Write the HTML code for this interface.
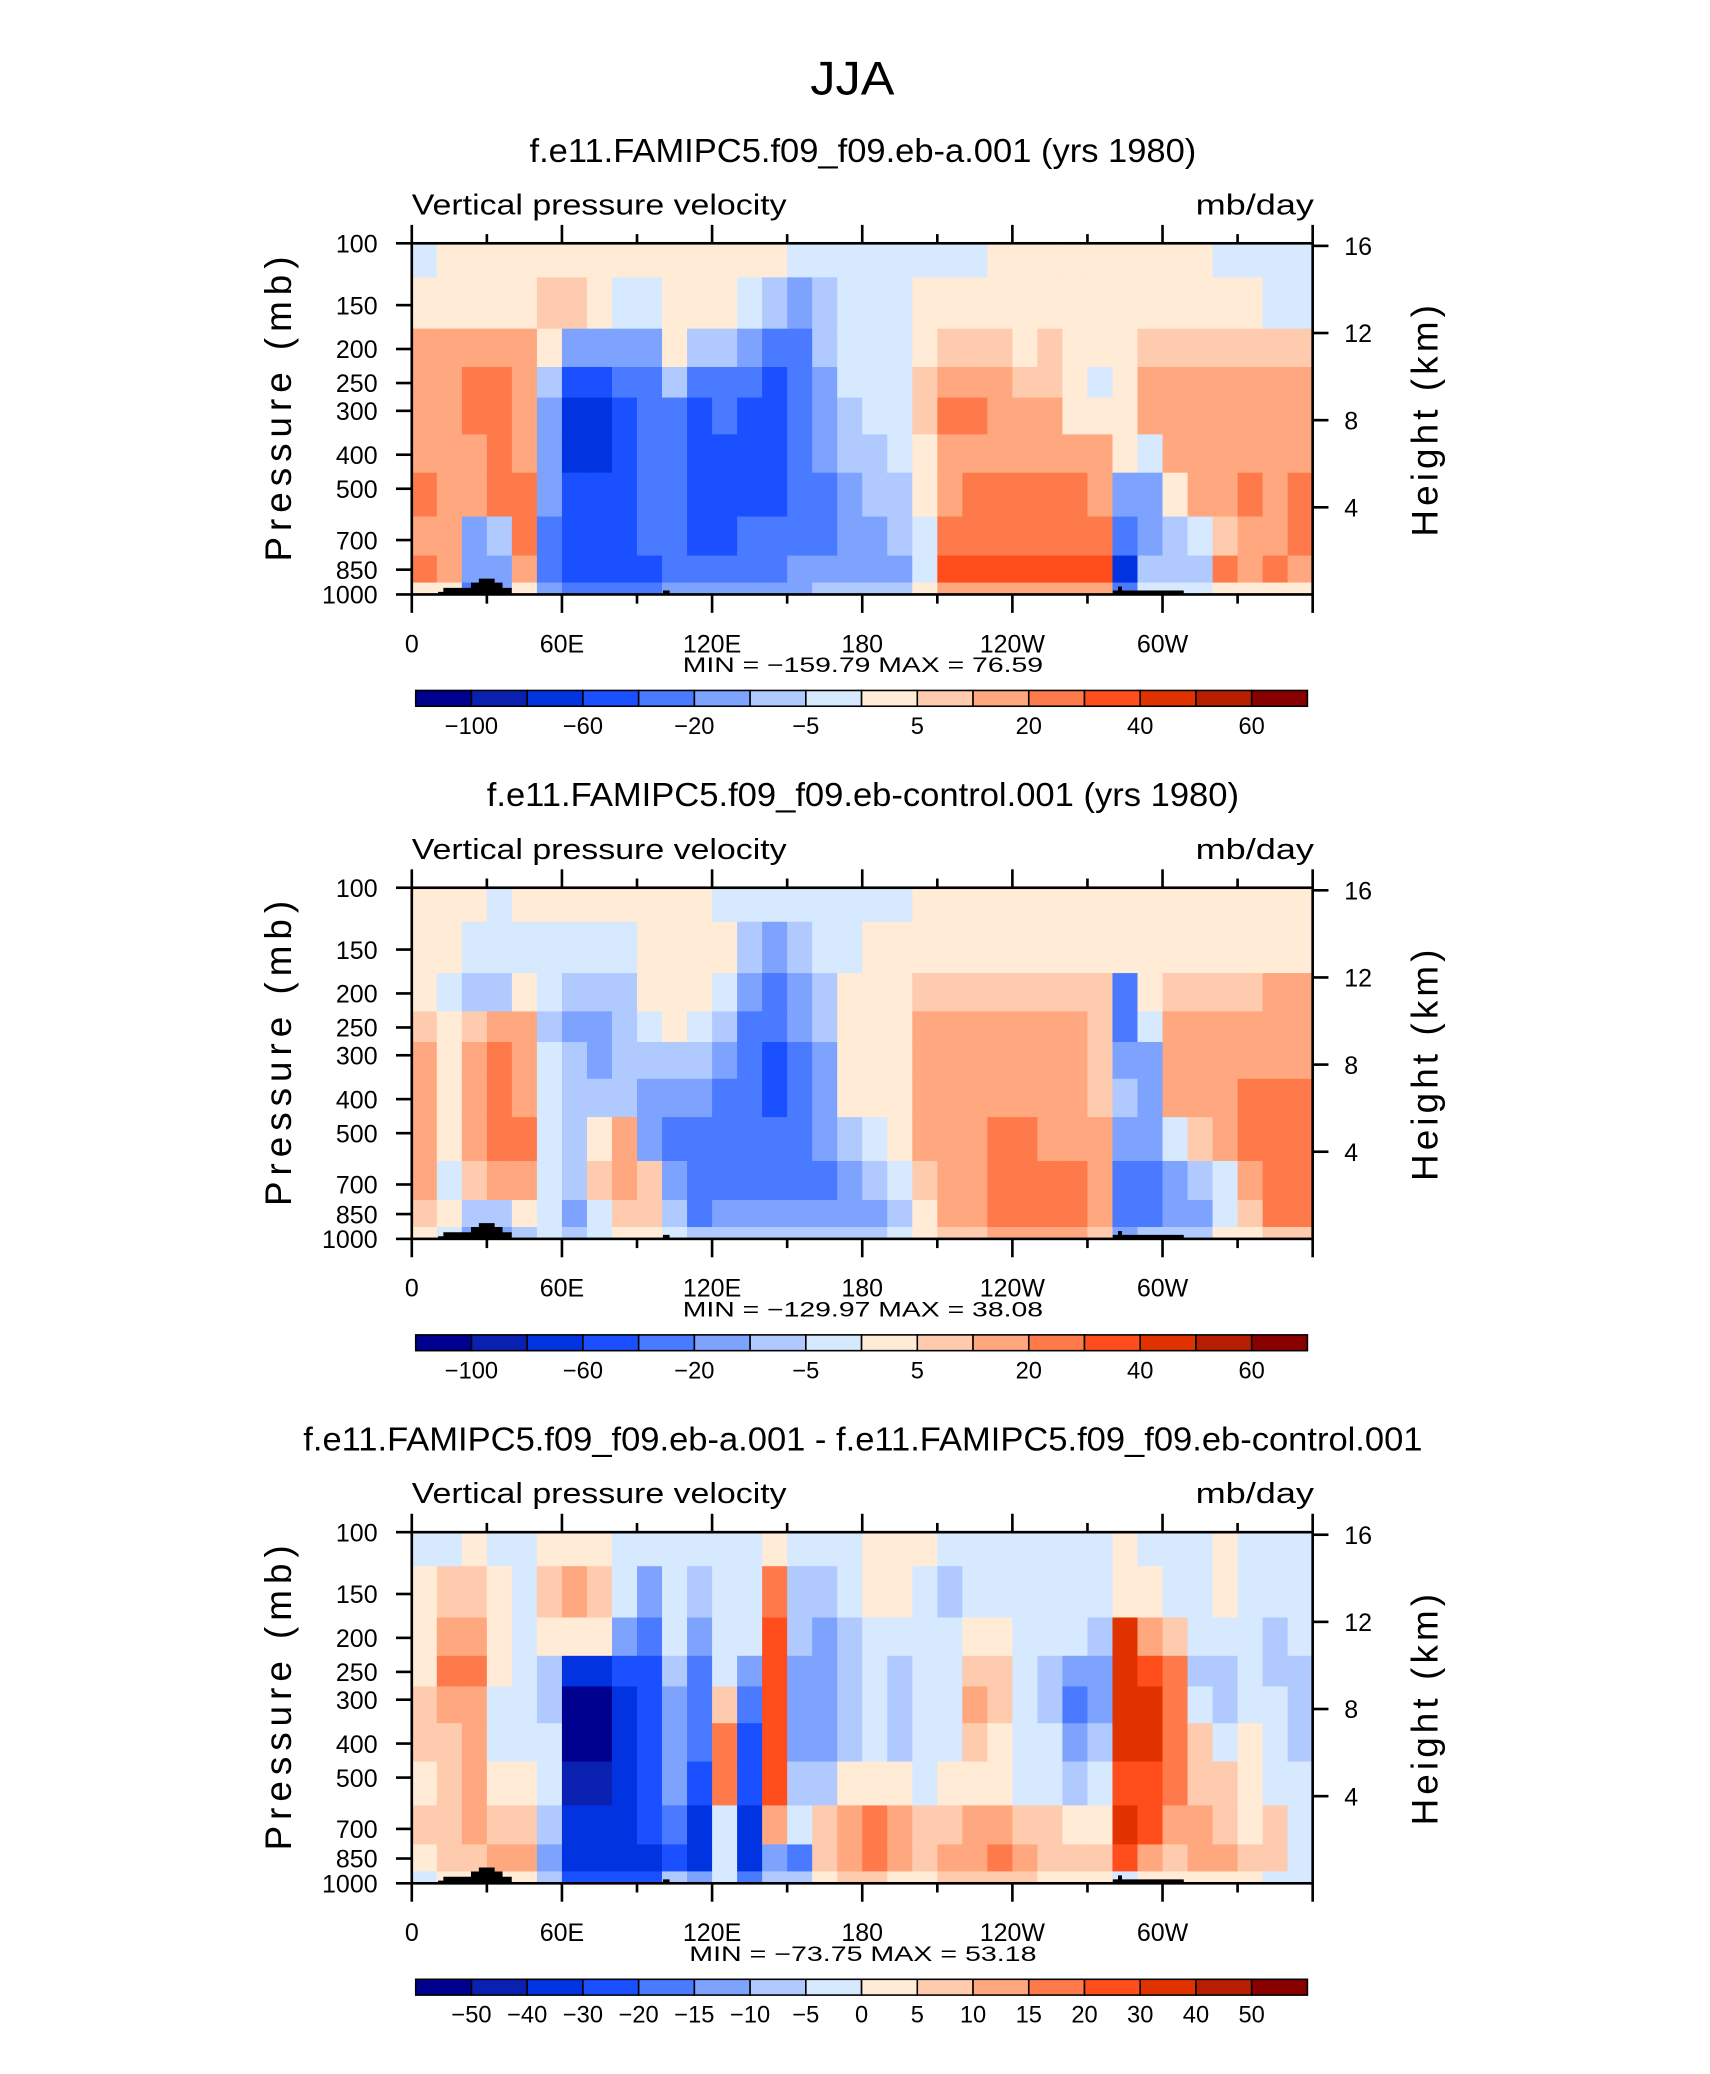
<!DOCTYPE html>
<html><head><meta charset="utf-8"><style>
html,body{margin:0;padding:0;background:#fff;}
svg{display:block;}
text{font-family:"Liberation Sans",sans-serif;fill:#000;}
</style></head><body>
<svg id="fig" width="1710" height="2074" viewBox="0 0 1300 1577" xmlns="http://www.w3.org/2000/svg">
<rect x="0" y="0" width="1300" height="1577" fill="#fff"/>
<text x="648" y="72" font-size="36" text-anchor="middle" textLength="64" lengthAdjust="spacingAndGlyphs">JJA</text>
</svg>
<script>
const lons = [5,15,25,35,45,55,65,75,85,95,105,115,125,135,145,155,165,175,185,195,205,215,225,235,245,255,265,275,285,295,305,315,325,335,345,355];
const pressureBounds = [100,125,175,225,275,350,450,600,775,925,1000];
const pressureTicks = [100,150,200,250,300,400,500,700,850,1000];
const heightTicks = [16,12,8,4];
const lonTicks = [0,60,120,180,240,300];
const lonTickLabels = ["0","60E","120E","180","120W","60W"];
const levelsA = [-100,-80,-60,-40,-20,-10,-5,0,5,10,20,30,40,50,60];
const levelLabelsA = ["-100","","-60","","-20","","-5","","5","","20","","40","","60"];
const levelsD = [-50,-40,-30,-20,-15,-10,-5,0,5,10,15,20,30,40,50];
const levelLabelsD = ["-50","-40","-30","-20","-15","-10","-5","0","5","10","15","20","30","40","50"];
const palette = ["#00008f","#0a20b0","#0233e0","#1a50ff","#4a7aff","#7ea3ff","#b0caff","#d6e9ff","#ffebd6","#ffcbae","#ffa77e","#ff7a4a","#ff4d1c","#e03300","#b81e00","#880000"];
const titles = ["f.e11.FAMIPC5.f09_f09.eb-a.001 (yrs 1980)","f.e11.FAMIPC5.f09_f09.eb-control.001 (yrs 1980)","f.e11.FAMIPC5.f09_f09.eb-a.001 - f.e11.FAMIPC5.f09_f09.eb-control.001"];
const titleWidths = [507, 572, 851];
const minmax = ["MIN = \u2212159.79   MAX =   76.59","MIN = \u2212129.97   MAX =   38.08","MIN = \u221273.75   MAX =   53.18"];
const minmaxWidths = [274, 274, 264];
const dataA = [
[-2,3,15,15,15,15,25,15,25,3],[3,3,15,15,15,15,15,15,15,3],[3,3,15,25,25,15,15,-20,-20,-40],[3,3,15,25,25,25,25,-10,-20,-20],
[3,3,15,15,15,15,25,25,15,3],[3,7,3,-10,-20,-20,-20,-30,-30,-20],[3,7,-20,-50,-70,-70,-50,-50,-50,-30],[3,3,-20,-50,-70,-70,-50,-50,-50,-30],
[3,-3,-20,-30,-50,-50,-50,-50,-50,-30],[3,-3,-15,-30,-30,-30,-30,-30,-50,-30],[3,3,3,-10,-30,-30,-30,-30,-30,-20],[3,3,-10,-30,-50,-50,-50,-50,-30,-20],
[3,3,-10,-30,-30,-50,-50,-50,-30,-20],[3,-3,-20,-30,-50,-50,-50,-30,-30,-20],[3,-7,-30,-50,-50,-50,-50,-30,-30,-20],[-3,-15,-30,-30,-30,-30,-30,-30,-20,-15],
[-3,-7,-7,-15,-15,-15,-30,-30,-20,-10],[-3,-3,-3,-3,-7,-7,-15,-15,-15,-10],[-3,-3,-3,-3,-3,-7,-7,-15,-15,-10],[-3,-3,-3,-3,-3,-3,-7,-10,-15,-7],
[-3,3,3,7,7,3,3,-3,-3,3],[-3,3,7,15,25,15,15,25,30,15],[-3,3,7,15,25,15,25,25,35,15],[3,3,7,15,15,15,25,25,35,15],
[3,3,3,7,15,15,25,25,35,15],[3,3,7,7,15,15,25,25,35,15],[3,3,3,3,3,15,25,25,35,15],[3,3,3,-3,3,15,15,25,35,10],
[3,3,3,3,3,3,-20,-40,-80,-40],[3,3,7,15,15,-3,-20,-20,-10,-3],[3,3,7,15,15,15,3,-10,-10,-3],[3,3,7,15,15,15,15,-3,-10,-3],
[-3,3,7,15,15,15,15,7,20,3],[-3,3,7,15,15,15,25,15,10,3],[-3,-3,7,15,15,15,15,15,25,3],[-3,-3,7,15,15,15,25,25,15,3]];
const dataC = [
[3,3,3,7,15,15,15,15,7,3],[3,3,-3,3,3,3,3,-3,3,-3],[3,-3,-7,7,15,15,15,7,-10,-20],[-3,-3,-7,15,25,25,25,15,-10,-20],
[3,-3,3,15,15,15,25,15,3,-10],[3,-3,-3,-7,-3,-3,-3,-3,-3,-3],[3,-3,-10,-20,-10,-10,-7,-10,-15,-10],[3,-3,-10,-20,-15,-10,3,7,-3,-3],
[3,-3,-7,-10,-7,-7,15,15,7,3],[3,3,3,-3,-7,-15,-15,7,7,3],[3,3,3,3,-7,-20,-30,-15,-7,-3],[3,3,3,-3,-10,-20,-30,-30,-30,-7],
[-3,3,-3,-10,-20,-30,-30,-30,-20,-7],[-3,-10,-20,-30,-30,-40,-40,-30,-20,-7],[-3,-15,-30,-40,-50,-50,-40,-30,-20,-7],[-3,-7,-15,-20,-30,-30,-30,-30,-20,-7],
[-3,-3,-7,-10,-15,-15,-20,-30,-20,-7],[-3,-3,3,3,3,3,-7,-20,-15,-7],[-3,3,3,3,3,3,-3,-7,-15,-7],[-3,3,3,3,3,3,3,-3,-7,-3],
[3,3,7,15,15,15,15,7,3,3],[3,3,7,15,15,15,15,15,15,7],[3,3,7,15,15,15,15,15,15,7],[3,3,7,15,15,15,25,25,25,10],
[3,3,7,15,15,15,25,25,25,10],[3,3,7,15,15,15,15,25,25,10],[3,3,7,15,15,15,15,25,25,10],[3,3,7,7,7,7,15,15,15,7],
[3,3,-30,-30,-20,-10,-20,-40,-40,-20],[3,3,3,-3,-15,-20,-20,-30,-30,-10],[3,3,7,15,15,15,-3,-20,-20,-7],[3,3,7,15,15,15,7,-10,-20,-7],
[3,3,7,15,15,15,15,-3,-3,3],[3,3,7,15,15,25,25,15,7,3],[3,3,15,15,15,25,25,25,25,7],[3,3,15,15,15,25,25,25,25,7]];
const dataD = [
[-2,2,2,2,7,7,2,7,2,-2],[-2,7,12,17,12,7,7,7,7,2],[2,7,12,17,12,12,12,12,7,2],[-2,2,2,2,-2,-2,2,7,12,2],
[-2,-2,-2,-2,-2,-2,2,7,12,2],[2,7,2,-7,-7,-2,-2,-7,-12,-7],[2,12,2,-35,-60,-60,-45,-35,-35,-25],[2,7,2,-35,-55,-60,-45,-35,-35,-25],
[-2,-2,-12,-25,-35,-35,-35,-35,-35,-25],[-2,-12,-20,-25,-25,-30,-30,-30,-35,-25],[-2,-2,-2,-7,-12,-12,-12,-17,-25,-7],[-2,-7,-12,-17,-20,-20,-25,-35,-35,-12],
[-2,-2,-2,-2,7,17,17,-2,-2,-2],[-2,-2,-2,-12,-20,-25,-25,-35,-40,-20],[2,17,25,25,25,25,25,12,-12,-7],[-2,-7,-7,-12,-12,-12,-7,-2,-17,-7],
[-2,-7,-12,-15,-12,-12,-7,7,7,2],[-2,-2,-7,-7,-7,-7,2,12,12,7],[2,2,-2,-2,-2,-2,2,17,17,7],[2,2,-2,-7,-7,-7,2,12,12,2],
[2,-2,-2,-2,-2,-2,-2,7,7,2],[-2,-7,-2,-2,-2,-2,2,7,12,7],[-2,-2,2,7,12,7,2,12,12,7],[-2,-2,2,7,7,2,2,12,17,7],
[-2,-2,-2,-2,-2,-2,-2,7,12,7],[-2,-2,-2,-7,-7,-2,-2,7,7,2],[-2,-2,-2,-12,-17,-12,-7,2,7,2],[-2,-2,-7,-12,-12,-7,-2,2,7,2],
[2,2,35,35,35,30,20,35,20,-2],[-2,2,12,25,30,30,25,25,12,2],[-2,-2,7,17,17,17,17,12,7,2],[-2,-2,-2,-7,-2,7,7,12,12,2],
[2,2,-2,-7,-7,-2,7,7,12,2],[-2,-2,-2,-2,-2,2,2,2,7,2],[-2,-2,-7,-7,-2,-2,-2,7,7,-2],[-2,-2,-2,-7,-7,-7,-2,-2,-2,-2]];

const NS = "http://www.w3.org/2000/svg";
const svg = document.getElementById("fig");
const X0 = 313, X1 = 998, PH = 267;
function mk(tag, attrs, parent){const e=document.createElementNS(NS,tag);for(const k in attrs)e.setAttribute(k,attrs[k]);(parent||svg).appendChild(e);return e;}
function xScale(lon){return X0 + lon/360*(X1-X0);}
function yScale(p, top){return top + Math.log(p/100)/Math.log(10)*PH;}
function hScale(h, top){const p=1000*Math.exp(-h/7); return yScale(p, top);}
function colorFor(v, lev){let i=0;while(i<lev.length && v>=lev[i]) i++;return palette[i];}

const panels = [{data:dataA,lev:levelsA,lab:levelLabelsA},{data:dataC,lev:levelsA,lab:levelLabelsA},{data:dataD,lev:levelsD,lab:levelLabelsD}];
panels.forEach((P, k) => {
  const off = k*490, top = 185+off, bot = top+PH;
  const g = mk("g", {});
  
  
  const t = mk("text", {x:656, y:123+off, "font-size":25, "text-anchor":"middle", textLength:titleWidths[k], lengthAdjust:"spacingAndGlyphs"}, g);
  t.textContent = titles[k];
  
  
  const l1 = mk("text", {x:313, y:163+off, "font-size":22, textLength:285, lengthAdjust:"spacingAndGlyphs"}, g);
  l1.textContent = "Vertical pressure velocity";
  
  
  const l2 = mk("text", {x:909, y:163+off, "font-size":22, textLength:90, lengthAdjust:"spacingAndGlyphs"}, g);
  l2.textContent = "mb/day";
  
  
  const cells = mk("g", {}, g);
  
  
  P.data.forEach((col, i) => {
    const xa = xScale(lons[i]-5), xb = xScale(lons[i]+5);
    col.forEach((v, j) => {
      const ya = yScale(pressureBounds[j], top), yb = yScale(pressureBounds[j+1], top);
      const r = mk("rect", {x:xa, y:ya, width:xb-xa+0.6, height:yb-ya+0.6, fill:colorFor(v, P.lev)}, cells);
      
      
    });
  });
  const topo = mk("path", {d:`M333 ${bot} L333 ${bot-2} L337 ${bot-2} L337 ${bot-5} L358 ${bot-5} L358 ${bot-9} L364 ${bot-9} L364 ${bot-12} L376 ${bot-12} L376 ${bot-9} L382 ${bot-9} L382 ${bot-5} L389 ${bot-5} L389 ${bot} Z M504 ${bot} L504 ${bot-3} L509 ${bot-3} L509 ${bot} Z M846 ${bot} L846 ${bot-3} L850 ${bot-3} L850 ${bot-6} L853 ${bot-6} L853 ${bot-3} L900 ${bot-3} L900 ${bot} Z`, fill:"#000"}, g);
  
  
  const frame = mk("rect", {x:X0, y:top, width:X1-X0, height:PH, fill:"none", stroke:"#000", "stroke-width":2}, g);
  
  
  for (let lon=0; lon<=360; lon+=30) {
    const x = xScale(lon), major = lon%60===0, len = major?14:7;
    mk("line", {x1:x, y1:top, x2:x, y2:top-len, stroke:"#000", "stroke-width":2}, g);
    mk("line", {x1:x, y1:bot, x2:x, y2:bot+len, stroke:"#000", "stroke-width":2}, g);
  }
  lonTicks.forEach((lon, i) => {
    const tl = mk("text", {x:xScale(lon), y:496+off, "font-size":19, "text-anchor":"middle"}, g);
    tl.textContent = lonTickLabels[i];
    
    
  });
  pressureTicks.forEach(p => {
    const y = yScale(p, top);
    mk("line", {x1:X0, y1:y, x2:X0-12, y2:y, stroke:"#000", "stroke-width":2}, g);
    const tl = mk("text", {x:287, y:y+7, "font-size":19, "text-anchor":"end"}, g);
    tl.textContent = p;
    
    
  });
  heightTicks.forEach(h => {
    const y = hScale(h, top);
    mk("line", {x1:X1, y1:y, x2:X1+12, y2:y, stroke:"#000", "stroke-width":2}, g);
    const tl = mk("text", {x:1022, y:y+7, "font-size":19}, g);
    tl.textContent = h;
    
    
  });
  const ya = mk("text", {x:0, y:0, "font-size":28, "text-anchor":"middle", textLength:232, lengthAdjust:"spacing", transform:`translate(221 ${311+off}) rotate(-90)`}, g);
  ya.textContent = "Pressure (mb)";
  
  
  const ya2 = mk("text", {x:0, y:0, "font-size":28, "text-anchor":"middle", textLength:176, lengthAdjust:"spacing", transform:`translate(1093 ${320+off}) rotate(-90)`}, g);
  ya2.textContent = "Height (km)";
  
  
  const mm = mk("text", {x:656, y:511+off, "font-size":16, "text-anchor":"middle", textLength:minmaxWidths[k], lengthAdjust:"spacingAndGlyphs"}, g);
  mm.textContent = minmax[k];
  
  
  const cb = mk("g", {}, g);
  
  
  const cx0 = 316, cw = (994-316)/palette.length, cy = 525+off;
  palette.forEach((c, i) => {
    const r = mk("rect", {x:cx0+i*cw, y:cy, width:cw, height:12, fill:c, stroke:"#000", "stroke-width":1.2}, cb);
    
    
  });
  P.lab.forEach((s, i) => {
    if (!s) return;
    const tl = mk("text", {x:cx0+(i+1)*cw, y:558+off, "font-size":18, "text-anchor":"middle"}, cb);
    tl.textContent = s.replace("-", "\u2212");
    
    
  });
});
</script>
</body></html>
